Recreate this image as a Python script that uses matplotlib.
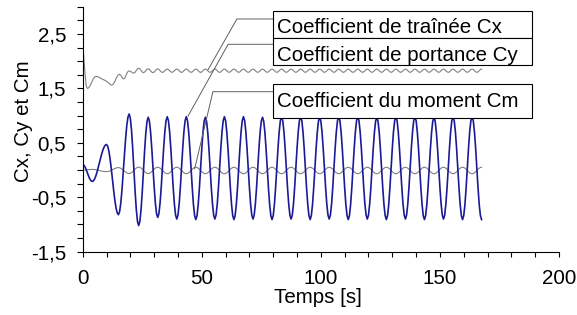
import numpy as np
import matplotlib
matplotlib.use("Agg")
import matplotlib.pyplot as plt
from matplotlib.patches import Rectangle
from matplotlib.ticker import FixedLocator, MultipleLocator, FuncFormatter

# pas de temps des echantillons (s)
dt = 0.5

# coefficient de trainee Cx
cx = [
    2.330, 2.050, 1.760, 1.540, 1.500, 1.511, 1.541, 1.586,
    1.634, 1.679, 1.709, 1.720, 1.718, 1.712, 1.700, 1.690,
    1.675, 1.665, 1.655, 1.645, 1.630, 1.615, 1.595, 1.575,
    1.560, 1.565, 1.590, 1.630, 1.680, 1.720, 1.750, 1.760,
    1.740, 1.705, 1.675, 1.680, 1.720, 1.775, 1.810, 1.820,
    1.815, 1.800, 1.785, 1.780, 1.795, 1.830, 1.860, 1.870,
    1.860, 1.830, 1.800, 1.790, 1.800, 1.825, 1.850, 1.860,
    1.850, 1.825, 1.800, 1.790, 1.800, 1.825, 1.850, 1.860,
    1.848, 1.826, 1.803, 1.794, 1.803, 1.826, 1.848, 1.857, 1.846, 1.825, 1.804, 1.795, 1.804, 1.825, 1.846, 1.855,
    1.848, 1.826, 1.803, 1.794, 1.803, 1.826, 1.848, 1.857, 1.846, 1.825, 1.804, 1.795, 1.804, 1.825, 1.846, 1.855,
    1.848, 1.826, 1.803, 1.794, 1.803, 1.826, 1.848, 1.857, 1.846, 1.825, 1.804, 1.795, 1.804, 1.825, 1.846, 1.855,
    1.848, 1.826, 1.803, 1.794, 1.803, 1.826, 1.848, 1.857, 1.846, 1.825, 1.804, 1.795, 1.804, 1.825, 1.846, 1.855,
    1.846, 1.825, 1.804, 1.795, 1.804, 1.825, 1.846, 1.855, 1.846, 1.825, 1.804, 1.795, 1.804, 1.825, 1.846, 1.855,
    1.846, 1.825, 1.804, 1.795, 1.804, 1.825, 1.846, 1.855, 1.846, 1.825, 1.804, 1.795, 1.804, 1.825, 1.846, 1.855,
    1.846, 1.825, 1.804, 1.795, 1.804, 1.825, 1.846, 1.855, 1.846, 1.825, 1.804, 1.795, 1.804, 1.825, 1.846, 1.855,
    1.846, 1.825, 1.804, 1.795, 1.804, 1.825, 1.846, 1.855, 1.846, 1.825, 1.804, 1.795, 1.804, 1.825, 1.846, 1.855,
    1.846, 1.825, 1.804, 1.795, 1.804, 1.825, 1.846, 1.855, 1.846, 1.825, 1.804, 1.795, 1.804, 1.825, 1.846, 1.855,
    1.846, 1.825, 1.804, 1.795, 1.804, 1.825, 1.846, 1.855, 1.846, 1.825, 1.804, 1.795, 1.804, 1.825, 1.846, 1.855,
    1.846, 1.825, 1.804, 1.795, 1.804, 1.825, 1.846, 1.855, 1.846, 1.825, 1.804, 1.795, 1.804, 1.825, 1.846, 1.855,
    1.846, 1.825, 1.804, 1.795, 1.804, 1.825, 1.846, 1.855, 1.846, 1.825, 1.804, 1.795, 1.804, 1.825, 1.846, 1.855,
    1.846, 1.825, 1.804, 1.795, 1.804, 1.825, 1.846, 1.855, 1.846, 1.825, 1.804, 1.795, 1.804, 1.825, 1.846, 1.855,
    1.846, 1.825, 1.804, 1.795, 1.804, 1.825, 1.846, 1.855, 1.846, 1.825, 1.804, 1.795, 1.804, 1.825, 1.846, 1.855,
    1.846, 1.825, 1.804, 1.795, 1.804, 1.825, 1.846, 1.855, 1.846, 1.825, 1.804, 1.795, 1.804, 1.825, 1.846, 1.855,
    1.846, 1.825, 1.804, 1.795, 1.804, 1.825, 1.846, 1.855, 1.846, 1.825, 1.804, 1.795, 1.804, 1.825, 1.846, 1.855,
    1.846, 1.825, 1.804, 1.795, 1.804, 1.825, 1.846, 1.855, 1.846, 1.825, 1.804, 1.795, 1.804, 1.825, 1.846, 1.855,
]

# coefficient de portance Cy
cy = [
    0.100, 0.088, 0.055, 0.004, -0.055, -0.114, -0.165, -0.198,
    -0.210, -0.198, -0.164, -0.110, -0.040, 0.042, 0.130, 0.218,
    0.300, 0.370, 0.424, 0.458, 0.470, 0.438, 0.347, 0.204,
    0.024, -0.175, -0.374, -0.554, -0.697, -0.788, -0.820, -0.764,
    -0.604, -0.358, -0.056, 0.266, 0.568, 0.814, 0.974, 1.030,
    0.952, 0.730, 0.397, 0.005, -0.387, -0.720, -0.942, -1.020,
    -0.944, -0.729, -0.406, -0.025, 0.356, 0.679, 0.894, 0.970,
    0.900, 0.701, 0.402, 0.050, -0.302, -0.601, -0.800, -0.870,
    -0.800, -0.599, -0.299, 0.055, 0.409, 0.709, 0.910, 0.980,
    0.908, 0.705, 0.400, 0.040, -0.320, -0.625, -0.828, -0.900,
    -0.828, -0.625, -0.320, 0.040, 0.400, 0.705, 0.908, 0.980,
    0.908, 0.703, 0.397, 0.035, -0.327, -0.633, -0.838, -0.910,
    -0.838, -0.635, -0.330, 0.030, 0.390, 0.695, 0.898, 0.970,
    0.899, 0.696, 0.393, 0.035, -0.323, -0.626, -0.829, -0.900,
    -0.828, -0.625, -0.320, 0.040, 0.400, 0.705, 0.908, 0.980,
    0.908, 0.703, 0.397, 0.035, -0.327, -0.633, -0.838, -0.910,
    -0.838, -0.633, -0.327, 0.035, 0.397, 0.703, 0.908, 0.980,
    0.908, 0.705, 0.400, 0.040, -0.320, -0.625, -0.828, -0.900,
    -0.829, -0.626, -0.323, 0.035, 0.393, 0.696, 0.899, 0.970,
    0.898, 0.695, 0.390, 0.030, -0.330, -0.635, -0.838, -0.910,
    -0.838, -0.633, -0.327, 0.035, 0.397, 0.703, 0.908, 0.980,
    0.908, 0.705, 0.400, 0.040, -0.320, -0.625, -0.828, -0.900,
    -0.828, -0.625, -0.320, 0.040, 0.400, 0.705, 0.908, 0.980,
    0.908, 0.703, 0.397, 0.035, -0.327, -0.633, -0.838, -0.910,
    -0.838, -0.635, -0.330, 0.030, 0.390, 0.695, 0.898, 0.970,
    0.899, 0.696, 0.393, 0.035, -0.323, -0.626, -0.829, -0.900,
    -0.828, -0.625, -0.320, 0.040, 0.400, 0.705, 0.908, 0.980,
    0.908, 0.703, 0.397, 0.035, -0.327, -0.633, -0.838, -0.910,
    -0.838, -0.633, -0.327, 0.035, 0.397, 0.703, 0.908, 0.980,
    0.908, 0.705, 0.400, 0.040, -0.320, -0.625, -0.828, -0.900,
    -0.829, -0.626, -0.323, 0.035, 0.393, 0.696, 0.899, 0.970,
    0.898, 0.695, 0.390, 0.030, -0.330, -0.635, -0.838, -0.910,
    -0.838, -0.633, -0.327, 0.035, 0.397, 0.703, 0.908, 0.980,
    0.908, 0.705, 0.400, 0.040, -0.320, -0.625, -0.828, -0.900,
    -0.828, -0.625, -0.320, 0.040, 0.400, 0.705, 0.908, 0.980,
    0.908, 0.703, 0.397, 0.035, -0.327, -0.633, -0.838, -0.910,
    -0.838, -0.635, -0.330, 0.030, 0.390, 0.695, 0.898, 0.970,
    0.899, 0.696, 0.393, 0.035, -0.323, -0.626, -0.829, -0.900,
    -0.828, -0.625, -0.320, 0.040, 0.400, 0.705, 0.908, 0.980,
    0.908, 0.703, 0.397, 0.035, -0.327, -0.633, -0.838, -0.910,
    -0.838, -0.633, -0.327, 0.035, 0.397, 0.703, 0.908, 0.980,
    0.908, 0.703, 0.397, 0.035, -0.327, -0.633, -0.838, -0.910,
]

# coefficient du moment Cm
cm = [
    0.000, 0.000, 0.002, 0.004, 0.006, 0.008, 0.010, 0.012,
    0.012, 0.011, 0.009, 0.006, 0.002, -0.004, -0.009, -0.014,
    -0.020, -0.024, -0.027, -0.029, -0.030, -0.028, -0.023, -0.015,
    -0.004, 0.008, 0.019, 0.030, 0.038, 0.043, 0.045, 0.042,
    0.032, 0.018, 0.000, -0.020, -0.038, -0.052, -0.062, -0.065,
    -0.060, -0.047, -0.028, -0.005, 0.018, 0.037, 0.050, 0.055,
    0.050, 0.037, 0.018, -0.005, -0.028, -0.047, -0.060, -0.065,
    -0.061, -0.048, -0.029, -0.007, 0.016, 0.035, 0.048, 0.052,
    0.047, 0.034, 0.015, -0.008, -0.031, -0.050, -0.063, -0.068, -0.063, -0.050, -0.031, -0.008, 0.015, 0.034, 0.047, 0.052,
    0.047, 0.034, 0.015, -0.008, -0.031, -0.050, -0.063, -0.068, -0.063, -0.050, -0.031, -0.008, 0.015, 0.034, 0.047, 0.052,
    0.047, 0.034, 0.015, -0.008, -0.031, -0.050, -0.063, -0.068, -0.063, -0.050, -0.031, -0.008, 0.015, 0.034, 0.047, 0.052,
    0.047, 0.034, 0.015, -0.008, -0.031, -0.050, -0.063, -0.068, -0.063, -0.050, -0.031, -0.008, 0.015, 0.034, 0.047, 0.052,
    0.047, 0.034, 0.015, -0.008, -0.031, -0.050, -0.063, -0.068, -0.063, -0.050, -0.031, -0.008, 0.015, 0.034, 0.047, 0.052,
    0.047, 0.034, 0.015, -0.008, -0.031, -0.050, -0.063, -0.068, -0.063, -0.050, -0.031, -0.008, 0.015, 0.034, 0.047, 0.052,
    0.047, 0.034, 0.015, -0.008, -0.031, -0.050, -0.063, -0.068, -0.063, -0.050, -0.031, -0.008, 0.015, 0.034, 0.047, 0.052,
    0.047, 0.034, 0.015, -0.008, -0.031, -0.050, -0.063, -0.068, -0.063, -0.050, -0.031, -0.008, 0.015, 0.034, 0.047, 0.052,
    0.047, 0.034, 0.015, -0.008, -0.031, -0.050, -0.063, -0.068, -0.063, -0.050, -0.031, -0.008, 0.015, 0.034, 0.047, 0.052,
    0.047, 0.034, 0.015, -0.008, -0.031, -0.050, -0.063, -0.068, -0.063, -0.050, -0.031, -0.008, 0.015, 0.034, 0.047, 0.052,
    0.047, 0.034, 0.015, -0.008, -0.031, -0.050, -0.063, -0.068, -0.063, -0.050, -0.031, -0.008, 0.015, 0.034, 0.047, 0.052,
    0.047, 0.034, 0.015, -0.008, -0.031, -0.050, -0.063, -0.068, -0.063, -0.050, -0.031, -0.008, 0.015, 0.034, 0.047, 0.052,
    0.047, 0.034, 0.015, -0.008, -0.031, -0.050, -0.063, -0.068, -0.063, -0.050, -0.031, -0.008, 0.015, 0.034, 0.047, 0.052,
    0.047, 0.034, 0.015, -0.008, -0.031, -0.050, -0.063, -0.068, -0.063, -0.050, -0.031, -0.008, 0.015, 0.034, 0.047, 0.052,
    0.047, 0.034, 0.015, -0.008, -0.031, -0.050, -0.063, -0.068, -0.063, -0.050, -0.031, -0.008, 0.015, 0.034, 0.047, 0.052,
    0.047, 0.034, 0.015, -0.008, -0.031, -0.050, -0.063, -0.068, -0.063, -0.050, -0.031, -0.008, 0.015, 0.034, 0.047, 0.052,
    0.047, 0.034, 0.015, -0.008, -0.031, -0.050, -0.063, -0.068, -0.063, -0.050, -0.031, -0.008, 0.015, 0.034, 0.047, 0.052,
]

# etiquettes des courbes et points vises par les traits de rappel (t, valeur)
labels = ["Coefficient de traînée Cx", "Coefficient de portance Cy", "Coefficient du moment Cm"]
pointers = [(52.6, 1.84), (44.2, 0.99), (47.0, 0.02)]

xticks = [0, 50, 100, 150, 200]
yticks = [-1.5, -0.5, 0.5, 1.5, 2.5]

W, H = 577, 315
plt.rcParams['font.family'] = ['Liberation Sans', 'DejaVu Sans']
plt.rcParams['font.size'] = 14.8

fig = plt.figure(figsize=(W / 100, H / 100), dpi=100)
ax = fig.add_axes([82.7 / W, 1 - 251.7 / H, (559 - 82.7) / W, (251.7 - 6.75) / H])

temps = np.arange(len(cy)) * dt
ax.plot(temps, cx, color='#808080', lw=0.8)
ax.plot(temps, cm, color='#808080', lw=0.8)
ax.plot(temps, cy, color='#1a1a96', lw=1.2)

ax.set_xlim(0, 200)
ax.set_ylim(-1.5, 3.0)
for s in ['top', 'right']:
    ax.spines[s].set_visible(False)
for s in ['left', 'bottom']:
    ax.spines[s].set_linewidth(0.8)

ax.xaxis.set_major_locator(FixedLocator(xticks))
ax.xaxis.set_minor_locator(MultipleLocator(10))
ax.yaxis.set_major_locator(FixedLocator(yticks))
ax.yaxis.set_minor_locator(MultipleLocator(0.25))
ax.yaxis.set_major_formatter(FuncFormatter(lambda v, p: f"{v:.1f}".replace('.', ',')))
ax.xaxis.set_major_formatter(FuncFormatter(lambda v, p: f"{v:.0f}"))
ax.tick_params(axis='y', which='both', direction='out', length=4.3, width=0.8, pad=7.7)
ax.tick_params(axis='x', which='both', direction='out', length=3.6, width=0.8, pad=9.0)

ax.set_ylabel('Cx, Cy et Cm')
ax.yaxis.set_label_coords(-0.104, 0.533)
ax.set_xlabel('Temps [s]')
ax.xaxis.set_label_coords(0.494, -0.148)

# cadres des etiquettes (pixels de l'image, y vers le bas)
boxes = [(11, 37.7, 33.3, 19), (37.7, 65, 61, 44.3), (84.3, 117.7, 107.3, 91.7)]
angles = [60.4, 60.8, 76.7]
x0, bw = 272.7, 259
for lab, (ya, yb, base, yl), pt, ang in zip(labels, boxes, pointers, angles):
    fig.add_artist(Rectangle((x0 / W, 1 - yb / H), bw / W, (yb - ya) / H,
                             transform=fig.transFigure, facecolor='white',
                             edgecolor='black', lw=0.8))
    fig.text(276.7 / W, 1 - base / H, lab, ha='left', va='baseline')
    ax.annotate('', xy=pt, xycoords='data', xytext=(x0, H - yl),
                textcoords='figure pixels', annotation_clip=False,
                arrowprops=dict(arrowstyle='-', color='#606060', lw=0.7,
                                shrinkA=0, shrinkB=0,
                                connectionstyle=f'angle,angleA=0,angleB={ang},rad=0'))

fig.savefig('out.png', dpi=100)
